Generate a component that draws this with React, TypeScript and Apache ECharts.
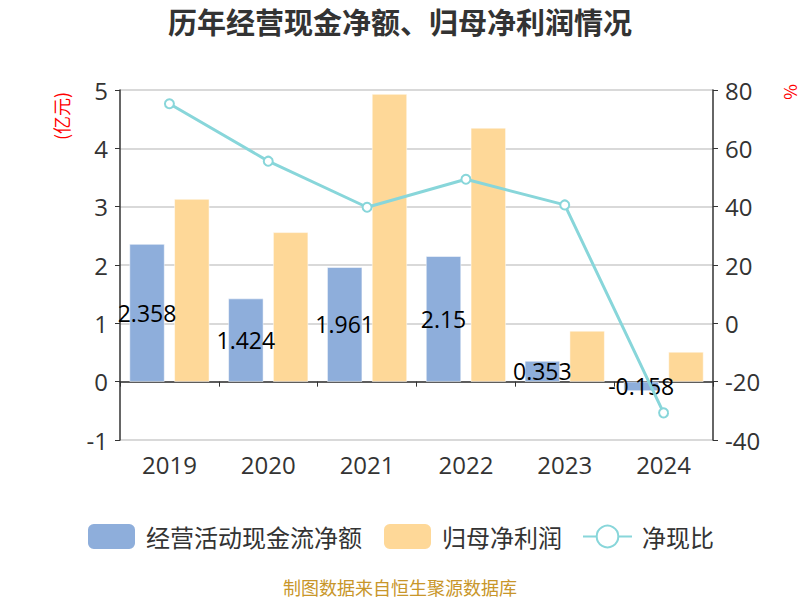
import React, { useEffect, useRef } from "react";
import * as echarts from "echarts";

const categories = ["2019", "2020", "2021", "2022", "2023", "2024"];
const cashFlow = [2.358, 1.424, 1.961, 2.15, 0.353, -0.158];
const netProfit = [3.13, 2.56, 4.93, 4.35, 0.87, 0.51];
const ratio = [75.3, 55.6, 39.8, 49.4, 40.6, -30.7];
const leftTicks = { min: -1, max: 5, interval: 1 };
const rightTicks = { min: -40, max: 80, interval: 20 };

const FONT = "'Open Sans', 'Noto Sans CJK SC', sans-serif";
const CJK = "'Noto Sans CJK SC', sans-serif";

export default function App() {
  const ref = useRef<HTMLDivElement>(null);
  useEffect(() => {
    document.body.style.margin = "0";
    if (!ref.current) return;
    const chart = echarts.init(ref.current, undefined, { renderer: "svg" });
    chart.setOption({
      animation: false,
      textStyle: { fontFamily: FONT },
      title: {
        text: "历年经营现金净额、归母净利润情况",
        left: "center",
        top: 1,
        textStyle: { fontSize: 29, fontWeight: "bold", color: "#333", fontFamily: CJK },
      },
      graphic: [
        {
          type: "text",
          left: "center",
          top: 578,
          style: {
            text: "制图数据来自恒生聚源数据库",
            fill: "#C8962A",
            fontSize: 18,
            fontFamily: CJK,
          },
        },
        {
          type: "text",
          x: 61,
          y: 116,
          rotation: Math.PI / 2,
          style: {
            text: "(亿元)",
            fill: "#f00",
            fontSize: 18,
            fontFamily: CJK,
            align: "center",
            verticalAlign: "middle",
          },
        },
        {
          type: "text",
          x: 789,
          y: 92,
          rotation: Math.PI / 2,
          style: {
            text: "%",
            fill: "#f00",
            fontSize: 17,
            fontFamily: CJK,
            align: "center",
            verticalAlign: "middle",
          },
        },
      ],
      legend: {
        top: 517,
        left: "center",
        itemWidth: 49,
        itemHeight: 27,
        itemGap: 20,
        textStyle: { fontSize: 24, color: "#333", fontFamily: CJK, padding: [0, 0, 0, 5] },
        data: [
          { name: "经营活动现金流净额", icon: "roundRect" },
          { name: "归母净利润", icon: "roundRect" },
          { name: "净现比" },
        ],
      },
      grid: { left: 120, right: 87, top: 90, bottom: 160 },
      xAxis: {
        type: "category",
        data: categories,
        axisLine: { onZero: true, lineStyle: { color: "#333", width: 1.5 } },
        axisTick: { show: true, lineStyle: { color: "#333" } },
        axisLabel: { fontSize: 24, color: "#333", margin: 12 },
      },
      yAxis: [
        {
          type: "value",
          ...leftTicks,
          axisLine: { show: true, lineStyle: { color: "#333", width: 1.5 } },
          axisTick: { show: true, lineStyle: { color: "#333" } },
          axisLabel: { fontSize: 24, color: "#333", margin: 12 },
          splitLine: { lineStyle: { color: "#ccc", width: 1.5 } },
        },
        {
          type: "value",
          ...rightTicks,
          axisLine: { show: true, lineStyle: { color: "#333", width: 1.5 } },
          axisTick: { show: true, lineStyle: { color: "#333" } },
          axisLabel: { fontSize: 24, color: "#333", margin: 12 },
          splitLine: { show: false },
        },
      ],
      series: [
        {
          name: "经营活动现金流净额",
          type: "bar",
          data: cashFlow,
          barWidth: 35,
          barGap: "28%",
          itemStyle: { color: "#8EAEDB", borderColor: "#fff", borderWidth: 0.5 },
          label: { show: true, position: "inside", color: "#000", fontSize: 23 },
        },
        {
          name: "归母净利润",
          type: "bar",
          data: netProfit,
          barWidth: 35,
          itemStyle: { color: "#FED898", borderColor: "#fff", borderWidth: 0.5 },
        },
        {
          name: "净现比",
          type: "line",
          yAxisIndex: 1,
          data: ratio,
          symbol: "emptyCircle",
          symbolSize: 9,
          lineStyle: { color: "#88D6DA", width: 3 },
          itemStyle: { color: "#88D6DA", borderWidth: 2 },
        },
      ],
    });
    return () => chart.dispose();
  }, []);
  return <div ref={ref} style={{ width: 800, height: 600 }} />;
}
